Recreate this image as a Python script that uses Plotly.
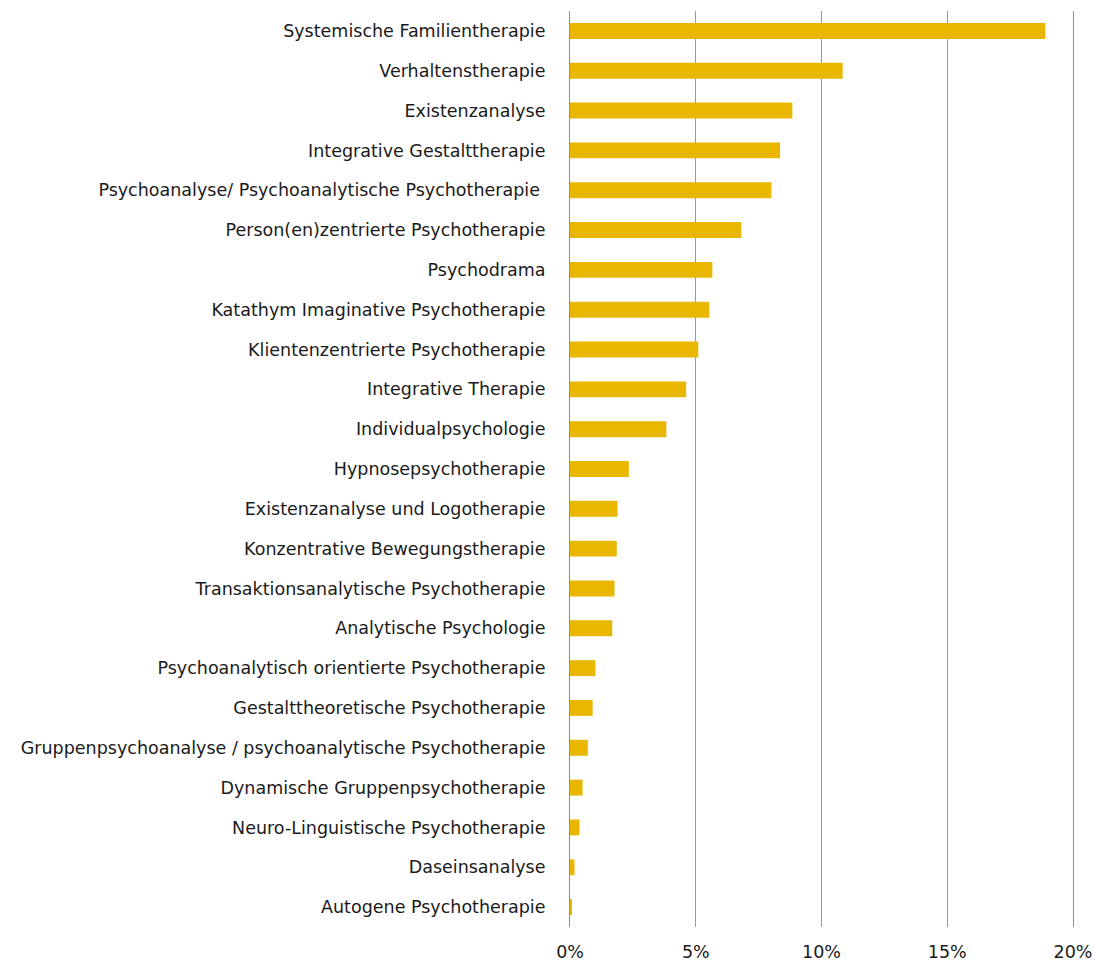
import plotly.graph_objects as go

# Psychotherapy methods (top to bottom) and their share in percent
methods = [
    "Systemische Familientherapie",
    "Verhaltenstherapie",
    "Existenzanalyse",
    "Integrative Gestalttherapie",
    "Psychoanalyse/ Psychoanalytische Psychotherapie\u00a0",
    "Person(en)zentrierte Psychotherapie",
    "Psychodrama",
    "Katathym Imaginative Psychotherapie",
    "Klientenzentrierte Psychotherapie",
    "Integrative Therapie",
    "Individualpsychologie",
    "Hypnosepsychotherapie",
    "Existenzanalyse und Logotherapie",
    "Konzentrative Bewegungstherapie",
    "Transaktionsanalytische Psychotherapie",
    "Analytische Psychologie",
    "Psychoanalytisch orientierte Psychotherapie",
    "Gestalttheoretische Psychotherapie",
    "Gruppenpsychoanalyse / psychoanalytische Psychotherapie",
    "Dynamische Gruppenpsychotherapie",
    "Neuro-Linguistische Psychotherapie",
    "Daseinsanalyse",
    "Autogene Psychotherapie",
]
shares = [
    18.9, 10.84, 8.84, 8.35, 8.01, 6.81, 5.66, 5.54, 5.10, 4.62, 3.83, 2.34,
    1.89, 1.86, 1.77, 1.68, 1.01, 0.90, 0.71, 0.50, 0.38, 0.18, 0.05,
]
tick_vals = [0, 5, 10, 15, 20]
tick_text = ["0%", "5%", "10%", "15%", "20%"]

FONT = "DejaVu Sans"
FSIZE = 17.5

fig = go.Figure(
    go.Bar(
        x=shares,
        y=methods,
        orientation="h",
        marker=dict(color="#E9B700", line=dict(width=0)),
        width=0.4,
    )
)

fig.update_layout(
    width=1096,
    height=961,
    margin=dict(l=570, r=23, t=11, b=34),
    paper_bgcolor="white",
    plot_bgcolor="white",
    font=dict(family=FONT, size=FSIZE, color="#1a1a1a"),
    showlegend=False,
)

fig.update_xaxes(
    range=[0, 20],
    tickvals=tick_vals,
    ticktext=tick_text,
    automargin=False,
    showgrid=True,
    gridcolor="#9a9a9a",
    gridwidth=1,
    zeroline=False,
    showline=False,
    ticks="",
    ticklabelstandoff=12,
    tickfont=dict(family=FONT, size=FSIZE, color="#1a1a1a"),
)

# Axis line on the left, mirrored on the right to close the 20% edge
fig.update_yaxes(
    categoryorder="array",
    categoryarray=methods[::-1],
    autorange=False,
    range=[-0.5, len(methods) - 0.5],
    automargin=False,
    showgrid=False,
    showline=True,
    mirror=True,
    linecolor="#8f8f8f",
    linewidth=1,
    ticks="",
    ticklabelstandoff=20,
    tickfont=dict(family=FONT, size=FSIZE, color="#1a1a1a"),
)

fig.write_html(
    "out.html",
    post_script="document.body.style.margin='0';",
)
